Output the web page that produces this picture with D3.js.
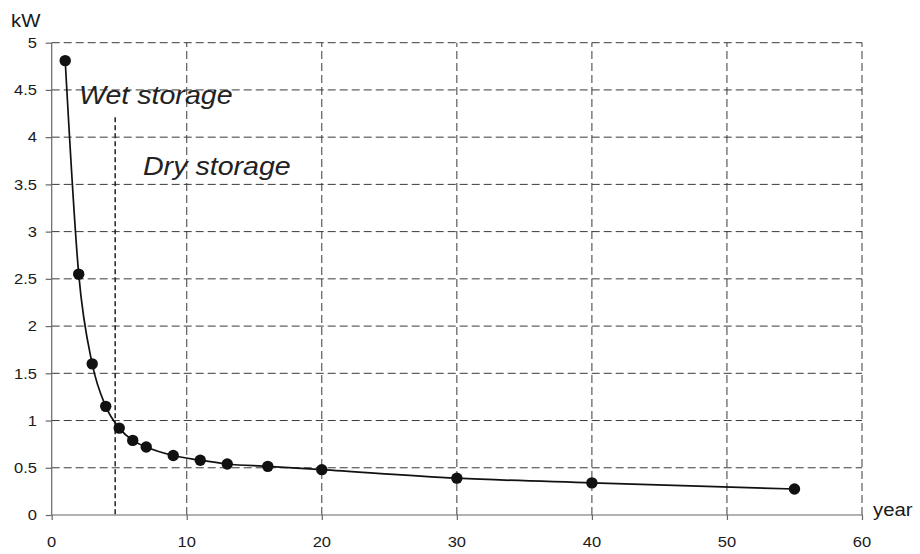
<!DOCTYPE html>
<html><head><meta charset="utf-8">
<script src="https://cdn.jsdelivr.net/npm/d3@7"></script>
<style>body{margin:0;background:#fff}svg{display:block}text{font-family:"Liberation Sans",Arial,sans-serif}</style>
</head><body><div id="chart"></div>
<script>
const years = [1, 2, 3, 4, 5, 6, 7, 9, 11, 13, 16, 20, 30, 40, 55];
const power = [4.81, 2.55, 1.60, 1.15, 0.92, 0.79, 0.72, 0.63, 0.58, 0.54, 0.515, 0.48, 0.39, 0.34, 0.275];
const xTicks = [0, 10, 20, 30, 40, 50, 60];
const yTicks = [0, 0.5, 1, 1.5, 2, 2.5, 3, 3.5, 4, 4.5, 5];
const yTickLabels = ["0", "0.5", "1", "1.5", "2", "2.5", "3", "3.5", "4", "4.5", "5"];
const dividerYear = 4.7, dividerTop = 4.21;
const annotations = [{text: "Wet storage", x: 2.24, y: 4.355}, {text: "Dry storage", x: 6.98, y: 3.598}];

const W = 920, H = 554;
const svg = d3.select("#chart").append("svg").attr("width", W).attr("height", H);
const x = d3.scaleLinear().domain([0, 60]).range([51.7, 862]);
const y = d3.scaleLinear().domain([0, 5]).range([515, 42.7]);
const SX = 1.1;

function label(px, py, txt, size, anchor, opts = {}) {
  const g = svg.append("g").attr("transform", `translate(${px},${py}) scale(${SX},1)`);
  g.append("text").attr("text-anchor", anchor).attr("font-size", size)
    .attr("fill", opts.fill || "#1a1a1a").attr("font-style", opts.italic ? "italic" : "normal").text(txt);
}

// grid
const grid = svg.append("g");
yTicks.filter(v => v > 0).forEach(v => {
  grid.append("line").attr("x1", x(0)).attr("x2", x(60)).attr("y1", y(v)).attr("y2", y(v))
    .attr("stroke", "#3a3a3a").attr("stroke-width", 1).attr("stroke-dasharray", "8,4");
});
xTicks.filter(v => v > 0).forEach(v => {
  grid.append("line").attr("x1", x(v)).attr("x2", x(v)).attr("y1", y(0)).attr("y2", y(5))
    .attr("stroke", "#3a3a3a").attr("stroke-width", 1).attr("stroke-dasharray", "8,4");
});

// axes
const xAxis = d3.axisBottom(x).tickValues(xTicks).tickSize(5).tickFormat("");
const yAxis = d3.axisLeft(y).tickValues(yTicks).tickSize(6).tickFormat("");
const gx = svg.append("g").attr("transform", `translate(0,${y(0)})`).call(xAxis);
const gy = svg.append("g").attr("transform", `translate(${x(0)},0)`).call(yAxis);
[gx, gy].forEach(g => { g.select(".domain").attr("stroke", "#666").attr("stroke-width", 1.2); g.selectAll(".tick line").attr("stroke", "#666").attr("stroke-width", 1.2); });
gx.select(".domain").attr("d", `M${x(0)},0H${x(60)}`);
gy.select(".domain").attr("d", `M0,${y(0)}V${y(5)}`);

xTicks.forEach(v => label(x(v), 547, String(v), 15, "middle"));
yTicks.forEach((v, i) => label(37, y(v) + 5.3, yTickLabels[i], 15, "end"));
label(11, 27, "kW", 18.5, "start");
label(873, 516, "year", 18.5, "start");

// divider
svg.append("line").attr("x1", x(dividerYear)).attr("x2", x(dividerYear))
  .attr("y1", y(dividerTop)).attr("y2", y(0)).attr("stroke", "#222").attr("stroke-width", 1.5).attr("stroke-dasharray", "5,3");

// annotations
annotations.forEach(a => label(x(a.x) - 3, y(a.y), a.text, 26, "start", {italic: true, fill: "#222"}));

// line + markers
const pts = years.map((d, i) => [d, power[i]]);
svg.append("path").datum(pts)
  .attr("d", d3.line().x(d => x(d[0])).y(d => y(d[1])).curve(d3.curveMonotoneX))
  .attr("fill", "none").attr("stroke", "#111").attr("stroke-width", 1.7);
svg.append("g").selectAll("circle").data(pts).join("circle")
  .attr("cx", d => x(d[0])).attr("cy", d => y(d[1])).attr("r", 5.7).attr("fill", "#111");
</script></body></html>
